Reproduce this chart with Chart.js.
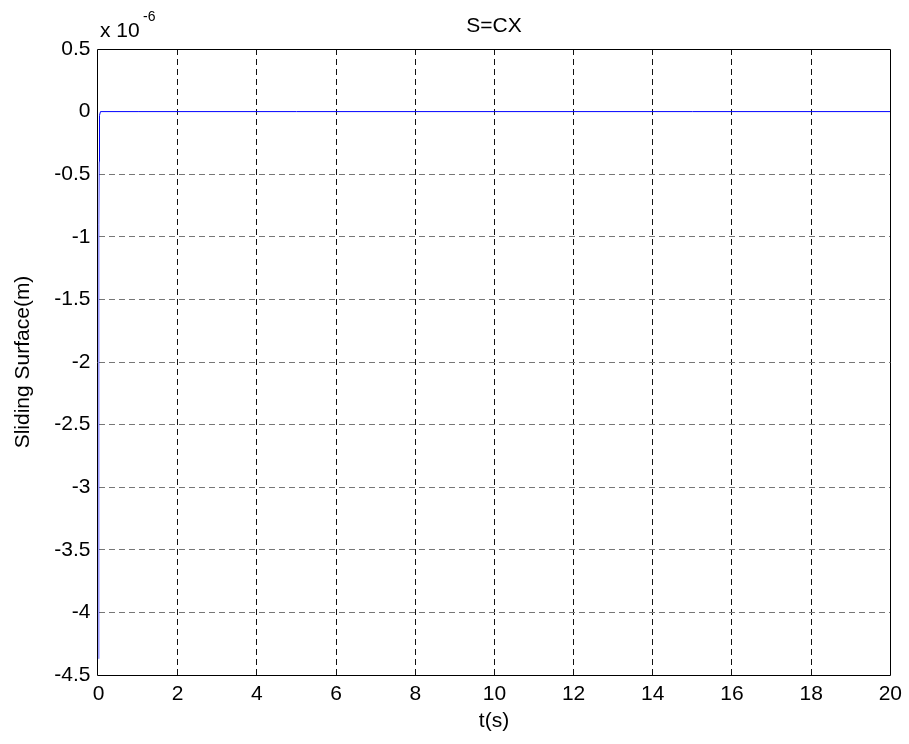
<!DOCTYPE html>
<html><head><meta charset="utf-8">
<script src="https://cdn.jsdelivr.net/npm/chart.js@4"></script>
<style>html,body{margin:0;padding:0;background:#fff}#wrap{width:909px;height:744px}</style>
</head><body><div id="wrap"><canvas id="c" width="909" height="744"></canvas></div>
<script>
// Time samples (s)
const timeValues = [0, 0.002, 0.005, 0.01, 0.015, 0.02, 0.03, 0.05, 1, 5, 10, 15, 20];
// Sliding surface values in units of 1e-6 m
const surfaceValues = [-4.37, -3.2, -2.0, -0.9, -0.4, -0.15, -0.03, 0, 0, 0, 0, 0, 0];
const xTicks = [0, 2, 4, 6, 8, 10, 12, 14, 16, 18, 20];
const yTicks = [0.5, 0, -0.5, -1, -1.5, -2, -2.5, -3, -3.5, -4, -4.5];
const titleText = 'S=CX';
const xLabel = 't(s)';
const yLabel = 'Sliding Surface(m)';
const FONT = 'Liberation Sans, Arial, sans-serif';
const FS = 21;

const points = timeValues.map((t, i) => ({x: t, y: surfaceValues[i]}));

const deco = {
  id: 'deco',
  afterDraw(chart) {
    const {ctx, chartArea: a} = chart;
    ctx.save();
    ctx.strokeStyle = '#000';
    ctx.lineWidth = 1;
    ctx.setLineDash([]);
    const L = 97.5, R = Math.round(a.right) + 0.5, T = Math.round(a.top) + 0.5, B = Math.round(a.bottom) + 0.5;
    ctx.beginPath();
    ctx.moveTo(L, T); ctx.lineTo(R, T); ctx.lineTo(R, B); ctx.lineTo(L, B); ctx.closePath();
    ctx.stroke();
    ctx.fillStyle = '#000';
    ctx.font = FS + 'px ' + FONT;
    ctx.textAlign = 'center';
    ctx.textBaseline = 'alphabetic';
    const cx = (L + R) / 2;
    ctx.fillText(titleText, cx, 32);
    ctx.fillText(xLabel, cx, 727);
    ctx.save();
    ctx.translate(29, (a.top + a.bottom) / 2);
    ctx.rotate(-Math.PI / 2);
    ctx.fillText(yLabel, 0, 0);
    ctx.restore();
    ctx.textAlign = 'left';
    ctx.fillText('x 10', 100, 37);
    ctx.font = '14px ' + FONT;
    ctx.fillText('-6', 143, 21);
    ctx.restore();
  }
};

const edgeX = [xTicks[0], xTicks[xTicks.length - 1]];
const hiddenY = [yTicks[0], 0, yTicks[yTicks.length - 1]];

new Chart(document.getElementById('c'), {
  type: 'scatter',
  data: {datasets: [{
    data: points,
    showLine: true,
    borderColor: '#0000ff',
    borderWidth: 1,
    pointRadius: 0,
    tension: 0
  }]},
  options: {
    responsive: false,
    animation: false,
    layout: {padding: {top: 49, right: 17, left: 0, bottom: 0}},
    plugins: {legend: {display: false}, tooltip: {enabled: false}},
    scales: {
      x: {
        type: 'linear', min: 0, max: 20,
        afterBuildTicks: s => { s.ticks = xTicks.map(v => ({value: v})); },
        afterFit: s => { s.height = 69; },
        border: {display: false, dash: [6, 4]},
        grid: {color: c => edgeX.includes(c.tick && c.tick.value) ? 'rgba(0,0,0,0)' : '#111', lineWidth: 1, drawTicks: false},
        ticks: {color: '#000', font: {size: FS, family: FONT}, padding: 7, maxRotation: 0}
      },
      y: {
        type: 'linear', min: -4.5, max: 0.5,
        afterBuildTicks: s => { s.ticks = yTicks.map(v => ({value: v})); },
        afterFit: s => { s.width = 98.5; },
        border: {display: false, dash: [6, 4]},
        grid: {color: c => hiddenY.includes(c.tick && c.tick.value) ? 'rgba(0,0,0,0)' : '#777', lineWidth: 1, drawTicks: false},
        ticks: {color: '#000', font: {size: FS, family: FONT}, padding: 8,
          callback: v => String(Number(v.toFixed(1)))}
      }
    }
  },
  plugins: [deco]
});
</script>
</body></html>
